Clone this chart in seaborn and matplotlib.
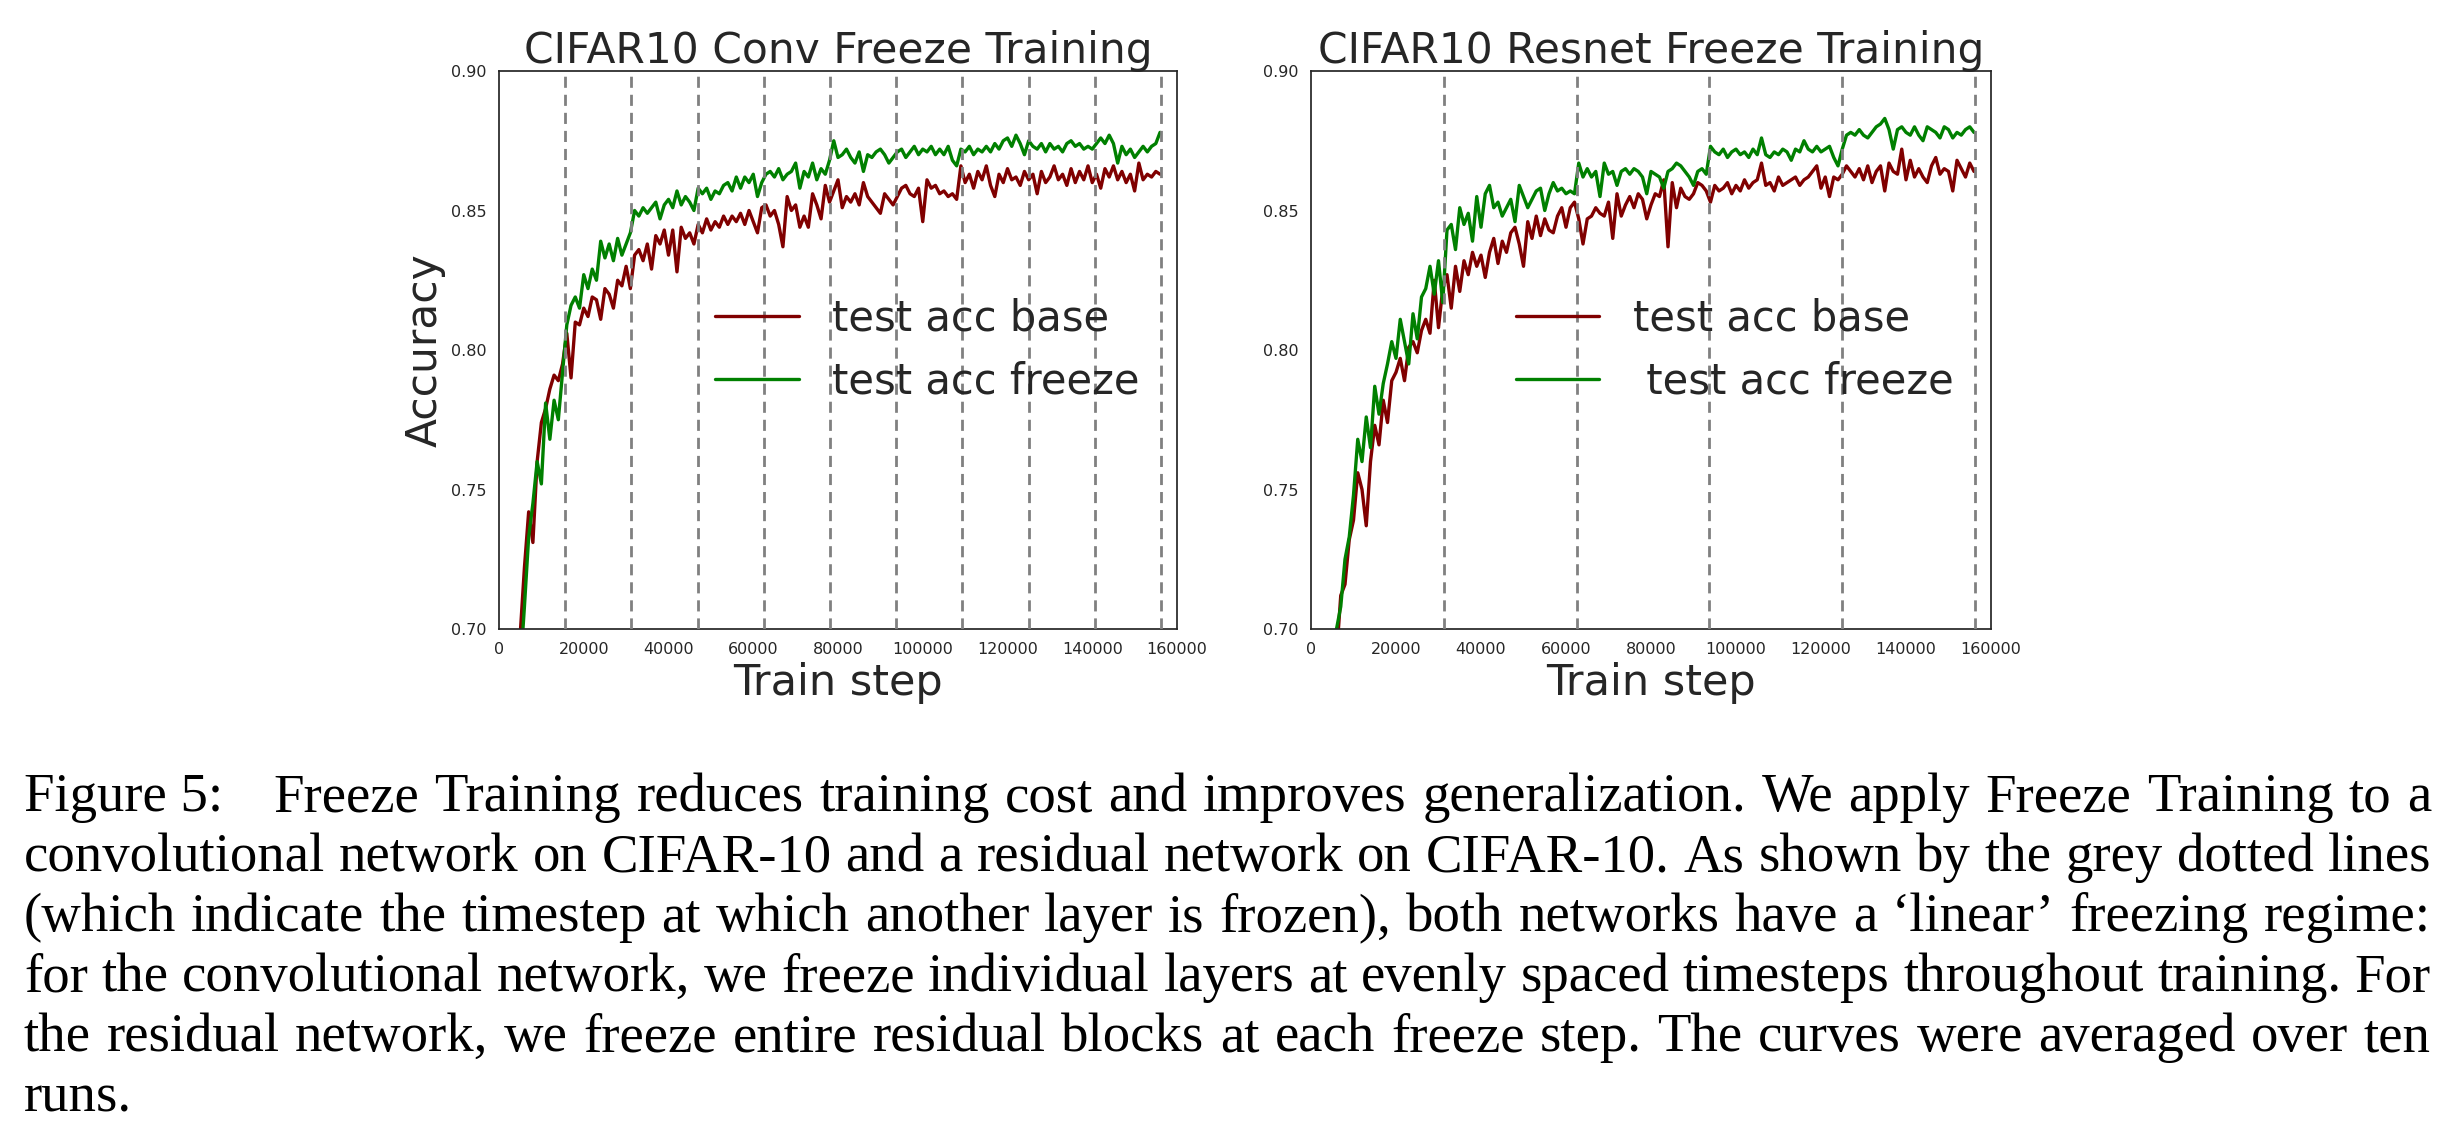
import numpy as np
import pandas as pd
import matplotlib
matplotlib.use('Agg')
import matplotlib.pyplot as plt
import matplotlib.transforms as mtransforms
import seaborn as sns

# evaluation steps (every 1000 train steps)
steps = list(range(5000, 156001, 1000))

conv_base = [
    0.698, 0.722, 0.742, 0.731, 0.760, 0.774, 0.779, 0.786, 0.791, 0.789,
    0.795, 0.806, 0.790, 0.810, 0.809, 0.815, 0.812, 0.819, 0.818, 0.811,
    0.822, 0.820, 0.815, 0.825, 0.823, 0.830, 0.822, 0.834, 0.836, 0.832,
    0.838, 0.829, 0.841, 0.838, 0.843, 0.834, 0.843, 0.828, 0.844, 0.840,
    0.842, 0.838, 0.845, 0.842, 0.847, 0.843, 0.846, 0.844, 0.848, 0.845,
    0.848, 0.846, 0.849, 0.845, 0.850, 0.846, 0.842, 0.851, 0.852, 0.848,
    0.850, 0.845, 0.837, 0.855, 0.850, 0.852, 0.844, 0.848, 0.844, 0.856,
    0.852, 0.847, 0.859, 0.853, 0.857, 0.861, 0.851, 0.855, 0.853, 0.856,
    0.852, 0.860, 0.855, 0.853, 0.851, 0.849, 0.856, 0.854, 0.852, 0.855,
    0.858, 0.859, 0.856, 0.855, 0.858, 0.846, 0.861, 0.858, 0.859, 0.856,
    0.857, 0.855, 0.856, 0.854, 0.866, 0.860, 0.863, 0.858, 0.864, 0.861,
    0.866, 0.859, 0.855, 0.863, 0.860, 0.865, 0.861, 0.862, 0.859, 0.864,
    0.861, 0.863, 0.856, 0.864, 0.860, 0.862, 0.866, 0.861, 0.863, 0.859,
    0.865, 0.860, 0.864, 0.861, 0.866, 0.860, 0.863, 0.858, 0.865, 0.862,
    0.866, 0.861, 0.864, 0.860, 0.863, 0.857, 0.867, 0.861, 0.863, 0.862,
    0.864, 0.863]

conv_freeze = [
    0.685, 0.708, 0.733, 0.745, 0.760, 0.752, 0.781, 0.768, 0.782, 0.775,
    0.792, 0.809, 0.816, 0.819, 0.815, 0.827, 0.822, 0.829, 0.825, 0.839,
    0.833, 0.838, 0.832, 0.840, 0.834, 0.838, 0.842, 0.850, 0.848, 0.851,
    0.849, 0.851, 0.853, 0.847, 0.852, 0.854, 0.851, 0.857, 0.852, 0.855,
    0.853, 0.850, 0.858, 0.856, 0.858, 0.854, 0.857, 0.856, 0.859, 0.860,
    0.857, 0.862, 0.858, 0.862, 0.860, 0.863, 0.855, 0.860, 0.863, 0.864,
    0.862, 0.865, 0.861, 0.863, 0.864, 0.867, 0.858, 0.864, 0.862, 0.867,
    0.861, 0.865, 0.863, 0.868, 0.875, 0.869, 0.870, 0.872, 0.869, 0.867,
    0.871, 0.864, 0.870, 0.869, 0.871, 0.872, 0.870, 0.867, 0.869, 0.871,
    0.872, 0.869, 0.871, 0.873, 0.870, 0.872, 0.871, 0.873, 0.870, 0.872,
    0.870, 0.873, 0.868, 0.866, 0.872, 0.871, 0.873, 0.870, 0.872, 0.871,
    0.873, 0.871, 0.874, 0.872, 0.875, 0.876, 0.873, 0.877, 0.874, 0.870,
    0.875, 0.873, 0.872, 0.874, 0.871, 0.874, 0.872, 0.873, 0.871, 0.874,
    0.875, 0.873, 0.874, 0.872, 0.873, 0.872, 0.874, 0.876, 0.874, 0.877,
    0.874, 0.867, 0.873, 0.870, 0.872, 0.869, 0.871, 0.873, 0.871, 0.873,
    0.874, 0.878]

resnet_base = [
    0.670, 0.690, 0.712, 0.716, 0.732, 0.739, 0.756, 0.750, 0.737, 0.760,
    0.773, 0.766, 0.782, 0.774, 0.789, 0.792, 0.797, 0.789, 0.801, 0.803,
    0.799, 0.807, 0.811, 0.806, 0.825, 0.808, 0.822, 0.827, 0.815, 0.830,
    0.821, 0.832, 0.827, 0.835, 0.830, 0.834, 0.826, 0.835, 0.840, 0.831,
    0.839, 0.835, 0.842, 0.844, 0.838, 0.830, 0.846, 0.840, 0.848, 0.841,
    0.847, 0.843, 0.842, 0.848, 0.851, 0.844, 0.851, 0.853, 0.847, 0.838,
    0.847, 0.848, 0.851, 0.849, 0.848, 0.853, 0.840, 0.856, 0.848, 0.852,
    0.855, 0.851, 0.856, 0.854, 0.847, 0.852, 0.856, 0.855, 0.861, 0.837,
    0.860, 0.851, 0.858, 0.855, 0.854, 0.856, 0.860, 0.859, 0.857, 0.853,
    0.859, 0.857, 0.858, 0.860, 0.856, 0.859, 0.857, 0.861, 0.858, 0.860,
    0.861, 0.867, 0.859, 0.860, 0.857, 0.862, 0.859, 0.860, 0.861, 0.862,
    0.859, 0.861, 0.862, 0.864, 0.866, 0.858, 0.862, 0.855, 0.862, 0.861,
    0.863, 0.866, 0.864, 0.862, 0.865, 0.861, 0.866, 0.860, 0.864, 0.866,
    0.857, 0.867, 0.864, 0.863, 0.872, 0.861, 0.868, 0.862, 0.865, 0.862,
    0.860, 0.866, 0.869, 0.863, 0.865, 0.864, 0.857, 0.868, 0.865, 0.862,
    0.867, 0.864]

resnet_freeze = [
    0.680, 0.700, 0.708, 0.725, 0.733, 0.748, 0.768, 0.760, 0.776, 0.765,
    0.787, 0.777, 0.788, 0.795, 0.803, 0.797, 0.811, 0.803, 0.795, 0.813,
    0.804, 0.819, 0.822, 0.830, 0.820, 0.832, 0.817, 0.843, 0.845, 0.836,
    0.851, 0.845, 0.849, 0.839, 0.855, 0.844, 0.856, 0.859, 0.851, 0.853,
    0.848, 0.851, 0.854, 0.846, 0.859, 0.855, 0.851, 0.854, 0.857, 0.858,
    0.850, 0.856, 0.860, 0.857, 0.858, 0.856, 0.857, 0.856, 0.867, 0.862,
    0.865, 0.862, 0.864, 0.855, 0.867, 0.863, 0.864, 0.859, 0.864, 0.865,
    0.863, 0.865, 0.864, 0.862, 0.856, 0.864, 0.863, 0.862, 0.858, 0.864,
    0.865, 0.867, 0.866, 0.864, 0.862, 0.859, 0.864, 0.865, 0.863, 0.873,
    0.871, 0.870, 0.872, 0.869, 0.871, 0.872, 0.870, 0.871, 0.869, 0.872,
    0.870, 0.876, 0.870, 0.869, 0.871, 0.870, 0.872, 0.871, 0.868, 0.872,
    0.871, 0.875, 0.872, 0.871, 0.873, 0.871, 0.872, 0.873, 0.869, 0.866,
    0.872, 0.877, 0.878, 0.877, 0.879, 0.877, 0.876, 0.878, 0.880, 0.881,
    0.883, 0.879, 0.872, 0.879, 0.880, 0.878, 0.877, 0.880, 0.877, 0.875,
    0.880, 0.879, 0.878, 0.876, 0.880, 0.879, 0.876, 0.878, 0.877, 0.879,
    0.880, 0.878]

# steps at which another layer / block gets frozen
conv_freeze_steps = [15625, 31250, 46875, 62500, 78125, 93750, 109375, 125000, 140625, 156250]
resnet_freeze_steps = [31250, 62500, 93750, 125000, 156250]

xticks = [0, 20000, 40000, 60000, 80000, 100000, 120000, 140000, 160000]
yticks = [0.70, 0.75, 0.80, 0.85, 0.90]

caption = [
    "Figure 5:",
    "Freeze Training reduces training cost and improves generalization. We apply Freeze Training to a",
    "convolutional network on CIFAR-10 and a residual network on CIFAR-10. As shown by the grey dotted lines",
    "(which indicate the timestep at which another layer is frozen), both networks have a \u2018linear\u2019 freezing regime:",
    "for the convolutional network, we freeze individual layers at evenly spaced timesteps throughout training. For",
    "the residual network, we freeze entire residual blocks at each freeze step. The curves were averaged over ten",
    "runs.",
]

sns.set_style('white')
plt.rcParams['font.family'] = ['DejaVu Sans']
plt.rcParams['xtick.labelsize'] = 11.5
plt.rcParams['ytick.labelsize'] = 11.5

W, H = 2462, 1140
fig = plt.figure(figsize=(W / 100, H / 100), dpi=100)
ax1 = fig.add_axes([499 / W, 1 - 629 / H, 678 / W, 558 / H])
ax2 = fig.add_axes([1311 / W, 1 - 629 / H, 680 / W, 558 / H])


def panel(ax, title, base, freeze, freeze_steps, labels):
    df = pd.DataFrame({'step': steps, 'base': base, 'freeze': freeze})
    sns.lineplot(data=df, x='step', y='base', ax=ax, color='#800000', lw=2.4, label=labels[0])
    sns.lineplot(data=df, x='step', y='freeze', ax=ax, color='#008000', lw=2.4, label=labels[1])
    for s in freeze_steps:
        ax.axvline(s, color='#808080', lw=2, dashes=(4, 2.5), zorder=3)
    ax.set_xlim(0, 160000)
    ax.set_ylim(0.70, 0.90)
    ax.set_xticks(xticks)
    ax.set_yticks(yticks)
    ax.set_yticklabels(['%.2f' % v for v in yticks])
    ax.tick_params(length=0, pad=9)
    for sp in ax.spines.values():
        sp.set_color('.15')
        sp.set_linewidth(1.25)
    ax.set_title(title, fontsize=30.5, y=1.014, pad=0, va='baseline')
    ax.set_xlabel('Train step', fontsize=31, labelpad=4)
    ax.set_ylabel('')
    ax.legend(loc='center right', frameon=False, fontsize=30,
              handlelength=2, handletextpad=0.8)


panel(ax1, 'CIFAR10 Conv Freeze Training', conv_base, conv_freeze,
      conv_freeze_steps, ['test acc base', 'test acc freeze'])
panel(ax2, 'CIFAR10 Resnet Freeze Training', resnet_base, resnet_freeze,
      resnet_freeze_steps, ['test acc base', ' test acc freeze'])
ax1.set_ylabel('Accuracy', fontsize=30.5, labelpad=4)

# justified caption, laid out word by word in pixels
fig.canvas.draw()
r = fig.canvas.get_renderer()
px = mtransforms.IdentityTransform()
cap_kw = dict(family='Liberation Serif', color='black', va='baseline', ha='left')
x_left, x_right = 24, 2431
baselines = [811, 871, 931, 991, 1051, 1111]


def width(s, fs):
    t = fig.text(0, 0, s, fontsize=fs, transform=px, **cap_kw)
    w = t.get_window_extent(r).width
    t.remove()
    return w


fs0 = 36
nat = max(width(line, fs0) for line in caption[2:6])
fs = fs0 * (x_right - x_left) / nat


def justify(words, x0, x1, y, stretch=True):
    ws = [width(w, fs) for w in words]
    if stretch and len(words) > 1:
        gap = (x1 - x0 - sum(ws)) / (len(words) - 1)
    else:
        gap = width('a b', fs) - width('ab', fs)
    x = x0
    for w, wd in zip(words, ws):
        fig.text(x, H - y, w, fontsize=fs, transform=px, **cap_kw)
        x += wd + gap


head = caption[0]
fig.text(x_left, H - baselines[0], head, fontsize=fs, transform=px, **cap_kw)
x_start = x_left + width(head, fs) + 50
justify(caption[1].split(' '), x_start, x_right, baselines[0])
for line, y in zip(caption[2:6], baselines[1:5]):
    justify(line.split(' '), x_left, x_right, y)
justify(caption[6].split(' '), x_left, x_right, baselines[5], stretch=False)

fig.savefig('out.png', dpi=100)
